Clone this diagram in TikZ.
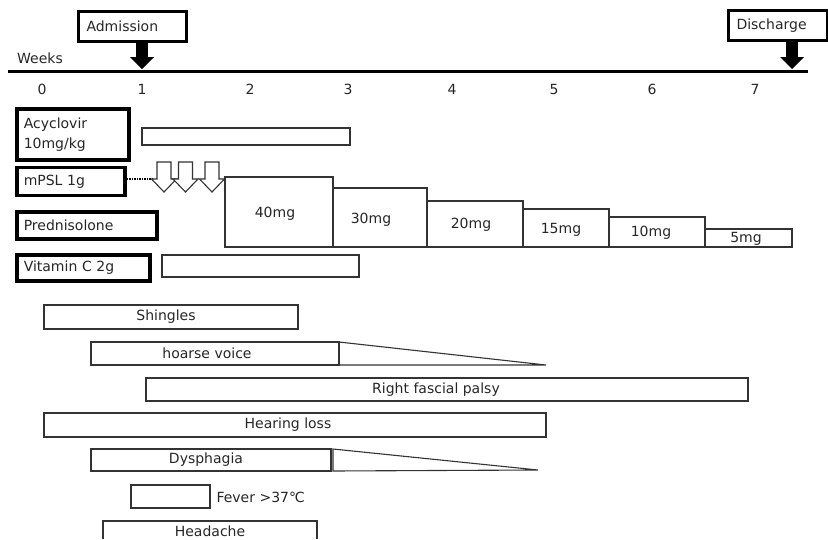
\documentclass[tikz,border=0pt]{standalone}
\usepackage{fontspec}
\setmainfont{DejaVu Sans}
\usetikzlibrary{arrows.meta}

\newcommand\pulsearrow[1]{%
\draw[pulse] ({#1-7},162) -- ({#1+7},162) -- ({#1+7},179) -- ({#1+12.5},179)
  -- (#1,192) -- ({#1-12.5},179) -- ({#1-7},179) -- cycle;}

\begin{document}
\begin{tikzpicture}[x=1pt,y=-1pt,font=\fontsize{14}{16.5}\selectfont,text=black!85,
  drug/.style={draw,line width=3.5pt,anchor=west,inner xsep=7pt,inner ysep=0pt,align=left},
  event/.style={draw,line width=3pt,anchor=west,inner xsep=8pt,inner ysep=0pt,align=left,minimum height=30pt},
  bigarrow/.style={line width=12pt,-{Triangle[width=24pt,length=12pt,line width=0pt]}},
  bar/.style={draw=black!80,line width=1.1pt},
  pulse/.style={draw=black!80,line width=1.1pt,fill=white}]

\useasboundingbox (0,0) rectangle (828,539);

% time axis
\coordinate (ax0) at (8,71);
\coordinate (ax1) at (808,71);
\draw[line width=3pt] (ax0) -- (ax1);
\node (weeks) at (40,58) {Weeks};

\node (w0) at (42,89) {0};
\node (w1) at (142,89) {1};
\node (w2) at (250,89) {2};
\node (w3) at (348,89) {3};
\node (w4) at (452,89) {4};
\node (w5) at (554,89) {5};
\node (w6) at (652,89) {6};
\node (w7) at (755,89) {7};

% admission and discharge
\node[event,text width=92pt] (adm) at (77,26) {Admission};
\coordinate (t1) at (142,69);
\draw[bigarrow] (adm.south -| t1) -- (t1);

\node[event,text width=83pt] (dis) at (727,25.5) {Discharge};
\coordinate (t7) at (792,69);
\draw[bigarrow] (dis.south -| t7) -- (t7);

% treatment
\node[drug,text width=98pt,minimum height=51pt,font=\fontsize{14}{20}\selectfont] (acy) at (15,134.5) {Acyclovir\\10mg/kg};
\node[drug,text width=94pt,minimum height=28pt] (mpsl) at (15,181.5) {mPSL 1g};
\node[drug,text width=126pt,minimum height=27pt] (pred) at (15,225.5) {Prednisolone};
\node[drug,text width=119pt,minimum height=26pt] (vitc) at (15,268) {Vitamin C 2g};

\draw[bar] (142,128) rectangle (350,145);
\draw[bar] (162,255) rectangle (359,277);

\coordinate (pl) at (152,179);
\draw[densely dotted,line width=1.5pt] (mpsl.east |- pl) -- (pl);
\pulsearrow{164}
\pulsearrow{185.5}
\pulsearrow{212}

\draw[bar] (225,177) rectangle (333,247);
\draw[bar] (333,188) rectangle (427,247);
\draw[bar] (427,201) rectangle (523,247);
\draw[bar] (523,209) rectangle (609,247);
\draw[bar] (609,217) rectangle (705,247);
\draw[bar] (705,229) rectangle (792,247);
\node (d40) at (275,214) {40mg};
\node (d30) at (371,220) {30mg};
\node (d20) at (471,225) {20mg};
\node (d15) at (561,230) {15mg};
\node (d10) at (651,233) {10mg};
\node (d5) at (746,239) {5mg};

% symptoms
\draw[bar] (44,305) rectangle (298,329);
\node (shingles) at (166,317) {Shingles};

\draw[bar] (91,342) rectangle (339,365);
\draw[bar] (339,342) -- (546,365) -- (339,365);
\node (hoarse) at (207,353) {hoarse voice};

\draw[bar] (146,378) rectangle (748,401);
\node (palsy) at (436,389.5) {Right fascial palsy};

\draw[bar] (44,413) rectangle (546,437);
\node (hearing) at (288,425) {Hearing loss};

\draw[bar] (91,449) rectangle (331,471);
\draw[bar] (333,449) -- (538,470) -- (333,471) -- cycle;
\node (dysphagia) at (206,460) {Dysphagia};

\draw[bar] (131,485) rectangle (210,508);
\node[anchor=west] (fever) at (213,497) {Fever >37℃};

\draw[bar] (103,539) -- (103,521) -- (317,521) -- (317,539);
\node (headache) at (210,531) {Headache};

\end{tikzpicture}
\end{document}
